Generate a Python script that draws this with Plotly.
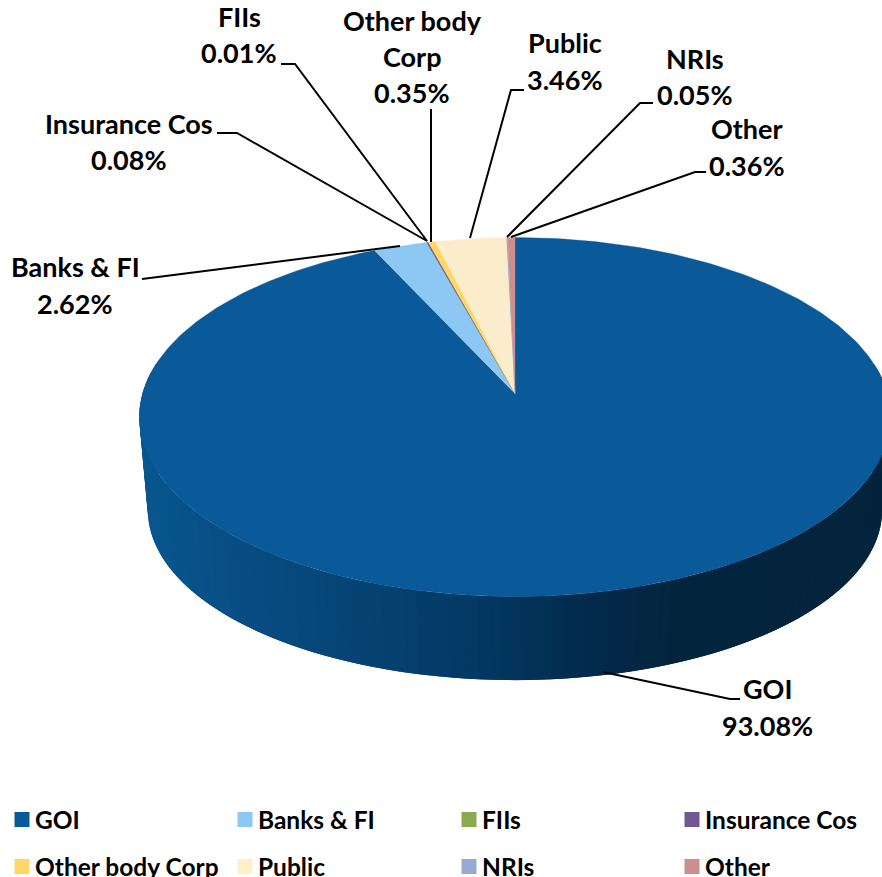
import math
import plotly.graph_objects as go

# ---- data ----
categories = ["GOI", "Banks & FI", "FIIs", "Insurance Cos", "Other body Corp", "Public", "NRIs", "Other"]
shares = [93.08, 2.62, 0.01, 0.08, 0.35, 3.46, 0.05, 0.36]
colors = ["#0A5A9A", "#8DC8F5", "#8BA94F", "#71588F", "#FFD766", "#FBEDCB", "#95ABD3", "#CD8E8E"]
legend_colors = ["#0A5A9A", "#8DC8F5", "#8BA94F", "#71588F", "#FFD766", "#FFF0C8", "#95ABD3", "#CD8E8E"]

# ---- projection of the tilted disc (canvas pixels used as axis units) ----
W, H = 882, 877
K = 0.131
TOP = dict(cx=515, cy=393.5, a=372.5, b=176.5)
BOT = dict(cx=515, cy=488, a=364, b=167)
FONT = dict(family="Lato, Carlito, sans-serif", size=27, color="#000000", weight=700)
LEGEND_FONT = dict(family="Lato, Carlito, sans-serif", size=24.5, color="#000000", weight=700)


def project(theta, d):
    w = 1 + K * math.cos(theta)
    return d["cx"] + d["a"] * math.sin(theta) / w, d["cy"] - d["b"] * math.cos(theta) / w


def side_color(x):
    stops = [(148, (8, 85, 143)), (300, (7, 72, 122)), (440, (4, 60, 105)), (515, (3, 52, 91)),
             (600, (3, 41, 74)), (680, (3, 36, 61)), (882, (3, 36, 60))]
    for (x0, c0), (x1, c1) in zip(stops, stops[1:]):
        if x <= x1:
            t = max(0.0, (x - x0) / (x1 - x0))
            return "rgb(%d,%d,%d)" % tuple(round(p + (q - p) * t) for p, q in zip(c0, c1))
    return "rgb(3,36,60)"


fig = go.Figure()

# side wall, in overlapping strips so that no seams show
N = 120
t_start, t_end = math.radians(80), math.radians(280)
dt = (t_end - t_start) / N
for i in range(N):
    t0 = t_start + dt * i
    t1 = t0 + dt
    t2 = min(t_end, t0 + 2 * dt)
    c = side_color((project(t0, TOP)[0] + project(t1, TOP)[0]) / 2)
    pts = [project(t0, TOP), project(t2, TOP), project(t2, BOT), project(t0, BOT), project(t0, TOP)]
    fig.add_trace(go.Scatter(x=[p[0] for p in pts], y=[p[1] for p in pts], mode="lines", fill="toself",
                             fillcolor=c, line=dict(color=c, width=0), hoverinfo="skip", showlegend=False))

# top face, slices clockwise from twelve o'clock
total = sum(shares)
cum = 0.0
for name, v, col in zip(categories, shares, colors):
    a0 = 2 * math.pi * cum / total
    cum += v
    a1 = 2 * math.pi * cum / total
    steps = max(2, int((a1 - a0) / math.radians(1)))
    arc = [project(a0 + (a1 - a0) * j / steps, TOP) for j in range(steps + 1)]
    xs = [TOP["cx"]] + [p[0] for p in arc] + [TOP["cx"]]
    ys = [TOP["cy"]] + [p[1] for p in arc] + [TOP["cy"]]
    fig.add_trace(go.Scatter(x=xs, y=ys, mode="lines", fill="toself", fillcolor=col,
                             line=dict(color=col, width=0.3), name=name, text=f"{name}: {v:.2f}%",
                             hoverinfo="text", showlegend=False))

# leader lines and labels
leaders = {
    "GOI": [(740, 699), (730, 699), (603, 672)],
    "Banks & FI": [(142, 279), (158, 277), (400, 246)],
    "FIIs": [(281, 64), (295, 64), (427, 241)],
    "Insurance Cos": [(217, 133), (237, 133), (427, 241)],
    "Other body Corp": [(431, 109), (431, 242)],
    "Public": [(524, 90), (511, 90), (470, 238)],
    "NRIs": [(653, 103), (640, 103), (507, 237)],
    "Other": [(706, 172), (695, 172), (511, 237)],
}
for pts in leaders.values():
    fig.add_trace(go.Scatter(x=[p[0] for p in pts], y=[p[1] for p in pts], mode="lines",
                             line=dict(color="#000000", width=2), hoverinfo="skip", showlegend=False))

label_lines = {
    "GOI": (["GOI"], 767, [688, 725.5]),
    "Banks & FI": (["Banks & FI"], 75, [266.5, 303.5]),
    "FIIs": (["FIIs"], 239, [16.5, 52.5]),
    "Insurance Cos": (["Insurance Cos"], 129, [123.5, 159.5]),
    "Other body Corp": (["Other body", "Corp"], 412, [20.5, 56.5, 92.5]),
    "Public": (["Public"], 565, [42.5, 79.5]),
    "NRIs": (["NRIs"], 695, [58.5, 94.5]),
    "Other": (["Other"], 747, [128.5, 165.5]),
}
annotations = []
for name, v in zip(categories, shares):
    lines, x, ys = label_lines[name]
    for txt, y in zip(lines + [f"{v:.2f}%"], ys):
        annotations.append(dict(x=x, y=y, xref="x", yref="y", text=txt, showarrow=False,
                                xanchor="center", yanchor="middle", font=FONT))

# legend keys
legend_x = [22, 245, 469, 692, 22, 245, 469, 692]
legend_y = [819, 819, 819, 819, 866, 866, 866, 866]
key_y = [819.5, 819.5, 819.5, 819.5, 866.5, 866.5, 866.5, 866.5]
for name, col, x, y, ky in zip(categories, legend_colors, legend_x, legend_y, key_y):
    fig.add_trace(go.Scatter(x=[x], y=[ky], mode="markers", hoverinfo="skip", showlegend=False,
                             marker=dict(symbol="square", size=15, color=col, line=dict(width=0))))
    annotations.append(dict(x=x + 11, y=y, xref="x", yref="y", text=name, showarrow=False,
                            xanchor="left", yanchor="middle", font=LEGEND_FONT))

fig.update_layout(
    width=W, height=H, margin=dict(l=0, r=0, t=0, b=0), paper_bgcolor="white", plot_bgcolor="white",
    xaxis=dict(range=[0, W], visible=False, domain=[0, 1], fixedrange=True),
    yaxis=dict(range=[H, 0], visible=False, domain=[0, 1], fixedrange=True),
    annotations=annotations, showlegend=False,
)
fig.write_html("out.html", config={"displayModeBar": False},
               post_script="document.body.style.margin='0';document.body.style.overflow='hidden';")
